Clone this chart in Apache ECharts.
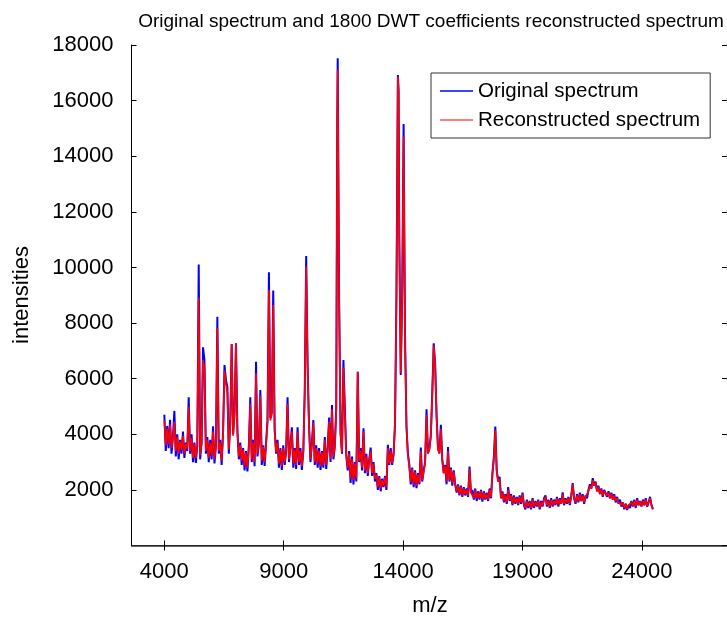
<!DOCTYPE html>
<html>
<head>
<meta charset="utf-8">
<script src="https://cdn.jsdelivr.net/npm/echarts@6/dist/echarts.min.js"></script>
<style>
html,body{margin:0;padding:0;background:#fff;}
#chart{width:727px;height:619px;}
</style>
</head>
<body>
<div id="chart"></div>
<script>
// m/z sample positions
const mz = [
4000,4060,4120,4180,4240,4300,4360,4420,4480,4540,
4600,4660,4720,4780,4840,4900,4960,5020,5080,5140,
5200,5260,5320,5380,5440,5500,5560,5620,5680,5740,
5800,5860,5920,5980,6040,6100,6160,6220,6280,6340,
6400,6460,6520,6580,6640,6700,6760,6820,6880,6940,
7000,7060,7120,7180,7240,7300,7360,7420,7480,7540,
7600,7660,7720,7780,7840,7900,7960,8020,8080,8140,
8200,8260,8320,8380,8440,8500,8560,8620,8680,8740,
8800,8860,8920,8980,9040,9100,9160,9220,9280,9340,
9400,9460,9520,9580,9640,9700,9760,9820,9880,9940,
10000,10060,10120,10180,10240,10300,10360,10420,10480,10540,
10600,10660,10720,10780,10840,10900,10960,11020,11080,11140,
11200,11240,11260,11320,11380,11440,11500,11560,11620,11680,11740,
11800,11860,11920,11980,12040,12100,12160,12220,12280,12340,
12400,12460,12520,12580,12640,12700,12760,12820,12880,12940,
13000,13060,13120,13180,13240,13300,13360,13420,13480,13540,
13600,13660,13720,13780,13810,13840,13900,13960,14020,14080,14140,
14200,14260,14320,14380,14440,14500,14560,14620,14680,14740,
14800,14860,14920,14980,15040,15100,15160,15220,15280,15340,
15400,15460,15520,15580,15640,15700,15760,15820,15880,15940,
16000,16060,16120,16180,16240,16300,16360,16420,16480,16540,
16600,16660,16720,16780,16840,16900,16960,17020,17080,17140,
17200,17260,17320,17380,17440,17500,17560,17620,17680,17740,
17800,17860,17920,17980,18040,18100,18160,18220,18280,18340,
18400,18460,18520,18580,18640,18700,18760,18820,18880,18940,
19000,19060,19120,19180,19240,19300,19360,19420,19480,19540,
19600,19660,19720,19780,19840,19900,19960,20020,20080,20140,
20200,20260,20320,20380,20440,20500,20560,20620,20680,20740,
20800,20860,20920,20980,21040,21100,21160,21220,21280,21340,
21400,21460,21520,21580,21640,21700,21760,21820,21880,21940,
22000,22060,22120,22180,22240,22300,22360,22420,22480,22540,
22600,22660,22720,22780,22840,22900,22960,23020,23080,23140,
23200,23260,23320,23380,23440,23500,23560,23620,23680,23740,
23800,23860,23920,23980,24040,24100,24160,24220,24280,24340,
24400,24460
];
// original spectrum intensities
const original = [
4700,3400,4300,3500,4520,3300,3900,4840,3200,4000,
3100,3800,3300,4100,3150,3700,3400,5330,3300,4000,
3000,3700,2970,3600,10110,3100,3700,7130,6670,3300,
3900,3000,3800,3100,4290,2950,3600,8230,3300,3800,
2900,4100,6490,5950,5700,3300,4450,7250,4000,4800,
7270,4150,3100,3700,2900,3500,2700,3400,2660,3600,
5330,3000,3800,2850,6610,3200,3700,5590,2900,3600,
2860,3700,4500,9830,4590,4800,9170,4200,3300,3800,
2800,3500,2720,3600,2900,3400,5330,3000,3600,4250,
2800,3500,2750,4250,2900,3500,2720,3400,5600,10410,
6500,4300,3000,3700,4510,2900,3600,2800,3500,2720,
3400,2800,3900,2750,3500,4600,3000,5050,3100,3600,
5000,15180,17520,8830,4050,3300,6670,4930,3200,2700,3400,
2250,3200,2200,3000,2300,6250,3000,3500,2700,4220,
2600,3300,2500,3100,3520,2500,3000,2300,2600,2000,
2500,1950,2400,2100,2500,2000,3620,2900,3500,2900,
3300,4400,9000,16920,16380,11000,6130,9000,15160,7500,4300,
3300,2900,2200,2800,2100,2700,2060,2600,2200,3520,
2300,2700,3000,4900,3320,3500,3970,5480,7270,6550,
4700,3500,3320,4340,3090,2600,2900,2200,3540,2300,
2800,2150,2700,2200,1900,2200,1800,2150,1750,2100,
1800,2050,1750,2840,1900,2000,1650,2050,1600,1950,
1650,2000,1580,1950,1650,1900,1600,2050,1700,2600,
3200,4280,2700,2300,2470,1700,1950,1550,1850,1500,
2100,1600,1850,1450,1800,1500,1750,1450,1800,1500,
1900,1450,1300,1650,1350,1600,1300,1700,1350,1600,
1400,1650,1300,1600,1400,1700,1800,1400,1650,1350,
1700,1400,1650,1450,1750,1400,1700,1500,1910,1450,
1700,1500,1750,1450,1800,2240,1700,1500,1850,1550,
1900,1600,1850,1500,1800,1700,2000,2200,2050,2420,
2150,2300,1950,2150,1850,2050,1750,2000,2060,1750,
1950,1700,1900,1650,1850,1550,1750,1500,1650,1400,
1550,1300,1500,1280,1450,1350,1600,1400,1650,1350,
1700,1450,1600,1400,1650,1450,1700,1400,1550,1750,
1450,1300
];
// reconstructed spectrum intensities (1800 DWT coefficients)
const reconstructed = [
4500,3600,4200,3650,4350,3500,3850,4450,3400,3900,
3300,3750,3450,3950,3300,3650,3500,4990,3400,3850,
3150,3650,3150,3550,8910,3250,3650,6670,6400,3400,
3800,3150,3700,3250,4100,3100,3550,7820,3400,3700,
3050,4000,6300,5800,5500,3450,4300,7250,3950,4700,
7270,4050,3200,3600,3050,3450,2850,3350,2800,3500,
5100,3100,3700,3000,6190,3300,3600,5400,3050,3550,
3000,3600,4400,9190,4500,4700,8650,4100,3350,3700,
2950,3450,2850,3500,3000,3350,5100,3100,3500,4100,
2950,3450,2900,4100,3000,3400,2850,3350,5400,10030,
6400,4200,3100,3600,4400,3000,3500,2950,3400,2850,
3350,2900,3800,2900,3400,4450,3100,4900,3200,3500,
4900,15000,17100,8700,4000,3350,6400,4800,3250,2800,3300,
2400,3100,2350,2950,2400,6250,3050,3400,2800,4100,
2700,3200,2600,3050,3400,2600,2950,2400,2550,2100,
2450,2050,2350,2150,2450,2100,3500,2950,3400,2950,
3250,4300,8800,16860,16300,10900,6200,8800,14700,7300,4250,
3250,2800,2300,2750,2200,2650,2150,2550,2250,3400,
2350,2650,2950,4690,3300,3450,3900,5400,7200,6500,
4650,3450,3300,4200,3050,2600,2850,2300,3400,2350,
2750,2250,2650,2200,1950,2150,1850,2100,1800,2050,
1850,2000,1800,2750,1900,1950,1700,2000,1700,1900,
1700,1950,1650,1900,1700,1850,1650,2000,1750,2550,
3100,4150,2650,2300,2400,1700,1900,1600,1800,1550,
2000,1650,1800,1500,1750,1550,1700,1500,1750,1550,
1850,1450,1350,1600,1400,1550,1350,1650,1400,1550,
1450,1600,1350,1550,1450,1650,1750,1450,1600,1400,
1650,1450,1600,1500,1700,1450,1650,1500,1850,1500,
1650,1550,1700,1500,1750,2200,1700,1550,1800,1600,
1850,1600,1800,1550,1750,1700,1950,2150,2050,2350,
2150,2250,1950,2100,1850,2000,1800,1950,2000,1800,
1900,1700,1850,1650,1800,1600,1700,1550,1600,1450,
1550,1350,1500,1320,1450,1380,1550,1420,1600,1400,
1650,1450,1580,1420,1600,1450,1650,1420,1550,1700,
1450,1320
];
const xTicks = [4000, 9000, 14000, 19000, 24000];
const yTicks = [2000, 4000, 6000, 8000, 10000, 12000, 14000, 16000, 18000];

const FONT = "'Liberation Sans', Arial, Helvetica, sans-serif";
const chart = echarts.init(document.getElementById('chart'), null, {renderer: 'canvas'});

const origData = mz.map((m, i) => [m, original[i]]);
const recData = mz.map((m, i) => [m, reconstructed[i]]);

const tickStyle = {show: true, inside: true, length: 5, lineStyle: {color: '#000', width: 1}};
const plain = v => String(v);

chart.setOption({
  animation: false,
  backgroundColor: '#fff',
  title: {
    text: 'Original spectrum and 1800 DWT coefficients reconstructed spectrum',
    left: 426, top: 7, textAlign: 'center',
    textStyle: {fontFamily: FONT, fontSize: 19, fontWeight: 'normal', color: '#000'}
  },
  grid: {left: 131.5, top: 45, right: -3, bottom: 73.5, containLabel: false},
  legend: {
    orient: 'vertical', left: 431, top: 73,
    padding: [7, 10, 7, 9], itemGap: 7, itemWidth: 33, itemHeight: 1.5,
    backgroundColor: '#fff', borderColor: '#333', borderWidth: 1,
    textStyle: {fontFamily: FONT, fontSize: 20.5, color: '#000', lineHeight: 22},
    data: [
      {name: 'Original spectrum', icon: 'rect', itemStyle: {color: '#0000ff'}},
      {name: 'Reconstructed spectrum', icon: 'rect', itemStyle: {color: '#ff5555'}}
    ]
  },
  xAxis: [{
    type: 'value', min: 2625, max: 27562.5, position: 'bottom',
    axisLine: {show: true, lineStyle: {color: '#000', width: 1}},
    axisTick: Object.assign({customValues: xTicks}, tickStyle),
    axisLabel: {customValues: xTicks, formatter: plain, fontFamily: FONT, fontSize: 22, color: '#000', margin: 15},
    splitLine: {show: false}
  }, {
    type: 'value', min: 2625, max: 27562.5, position: 'top',
    axisLine: {show: true, lineStyle: {color: '#333', width: 1.5}},
    axisTick: Object.assign({customValues: xTicks}, tickStyle),
    axisLabel: {show: false},
    splitLine: {show: false}
  }],
  yAxis: [{
    type: 'value', min: 0, max: 18000, interval: 2000, position: 'left',
    axisLine: {show: true, lineStyle: {color: '#000', width: 1}},
    axisTick: tickStyle,
    axisLabel: {showMinLabel: false, formatter: plain, fontFamily: FONT, fontSize: 22, color: '#000', margin: 18},
    splitLine: {show: false}
  }, {
    type: 'value', min: 0, max: 18000, interval: 2000, position: 'right',
    axisLine: {show: true, lineStyle: {color: '#000', width: 1}},
    axisTick: tickStyle,
    axisLabel: {show: false},
    splitLine: {show: false}
  }],
  graphic: [
    {type: 'text', x: 430, y: 606,
     style: {text: 'm/z', fontFamily: FONT, fontSize: 22, fill: '#000', textAlign: 'center', textVerticalAlign: 'middle'}},
    {type: 'text', x: 22, y: 295, rotation: Math.PI / 2,
     style: {text: 'intensities', fontFamily: FONT, fontSize: 22, fill: '#000', textAlign: 'center', textVerticalAlign: 'middle'}}
  ],
  series: [{
    name: 'Original spectrum', type: 'line', data: origData,
    xAxisIndex: 0, yAxisIndex: 0,
    showSymbol: false, symbol: 'none', sampling: null,
    lineStyle: {color: '#0000ff', width: 2}, itemStyle: {color: '#0000ff'},
    z: 2
  }, {
    name: 'Reconstructed spectrum', type: 'line', data: recData,
    xAxisIndex: 0, yAxisIndex: 0,
    showSymbol: false, symbol: 'none', sampling: null,
    lineStyle: {color: '#ff0000', width: 1.7}, itemStyle: {color: '#ff0000'},
    z: 3
  }]
});
</script>
</body>
</html>
